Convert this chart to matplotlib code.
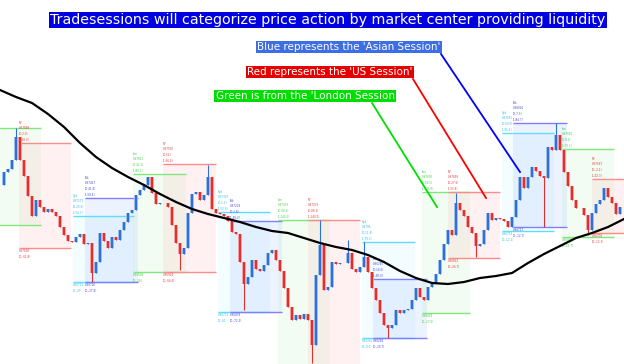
from matplotlib import pyplot as plt
from matplotlib.lines import Line2D

# =============================================================================
# Chart data (one candle every 4 px, prices)

closes = [
    0.9815, 0.9828, 0.9831, 0.9840, 0.9863, 0.9840, 0.9824, 0.9804, 0.9784, 0.9800,
    0.9793, 0.9788, 0.9791, 0.9788, 0.9784, 0.9773, 0.9765, 0.9759, 0.9758, 0.9763,
    0.9766, 0.9756, 0.9757, 0.9727, 0.9738, 0.9767, 0.9759, 0.9752, 0.9763, 0.9760,
    0.9770, 0.9778, 0.9787, 0.9790, 0.9805, 0.9810, 0.9815, 0.9823, 0.9807, 0.9796,
    0.9797, 0.9797, 0.9793, 0.9775, 0.9757, 0.9746, 0.9752, 0.9787, 0.9806, 0.9808,
    0.9800, 0.9805, 0.9823, 0.9791, 0.9787, 0.9786, 0.9784, 0.9779, 0.9768, 0.9766,
    0.9738, 0.9716, 0.9723, 0.9740, 0.9731, 0.9729, 0.9735, 0.9747, 0.9750, 0.9740,
    0.9729, 0.9712, 0.9693, 0.9680, 0.9685, 0.9681, 0.9686, 0.9680, 0.9655, 0.9725,
    0.9755, 0.9710, 0.9713, 0.9738, 0.9736, 0.9737, 0.9737, 0.9747, 0.9731, 0.9728,
    0.9733, 0.9743, 0.9728, 0.9712, 0.9700, 0.9687, 0.9675, 0.9672, 0.9675, 0.9690,
    0.9687, 0.9690, 0.9691, 0.9700, 0.9712, 0.9703, 0.9700, 0.9713, 0.9717, 0.9726,
    0.9740, 0.9756, 0.9770, 0.9765, 0.9797, 0.9790, 0.9784, 0.9773, 0.9767, 0.9754,
    0.9756, 0.9770, 0.9787, 0.9780, 0.9782, 0.9781, 0.9779, 0.9773, 0.9783, 0.9800,
    0.9823, 0.9812, 0.9823, 0.9833, 0.9829, 0.9824, 0.9822, 0.9853, 0.9850, 0.9865,
    0.9850, 0.9828, 0.9814, 0.9800, 0.9792, 0.9792, 0.9785, 0.9770, 0.9787, 0.9796,
    0.9800, 0.9812, 0.9803, 0.9797, 0.9786, 0.9793,
]

# long wicks that stick out of the bodies
spike_high_idx = [4, 52, 80, 87, 91, 114, 139]
spike_high = [0.9872, 0.9835, 0.9780, 0.9760, 0.9758, 0.9807, 0.9877]
spike_low_idx = [23, 45, 61, 78, 97, 119, 136, 147]
spike_low = [0.9718, 0.9730, 0.9690, 0.9637, 0.9662, 0.9743, 0.9773, 0.9765]

# moving average, one value every 4 candles
ma_step = 4
ma_values = [
    0.9910, 0.9903, 0.9897, 0.9886, 0.9873, 0.9857, 0.9843, 0.9832, 0.9823, 0.9815,
    0.9806, 0.9798, 0.9791, 0.9786, 0.9782, 0.9778, 0.9773, 0.9769, 0.9767, 0.9762,
    0.9757, 0.9753, 0.9750, 0.9745, 0.9738, 0.9729, 0.9722, 0.9717, 0.9716, 0.9718,
    0.9722, 0.9724, 0.9727, 0.9737, 0.9746, 0.9754, 0.9762, 0.9767, 0.9773, 0.9781,
]

# trading sessions
sess_kind = ["Lon", "NY", "Syd", "Tok", "Lon", "NY", "Syd", "Tok", "Lon", "NY",
             "Syd", "Tok", "Lon", "NY", "Syd", "Tok", "Lon", "NY"]
sess_start = [-12, 4.75, 18.25, 21.25, 33.25, 40.75, 54.5, 57.5, 69.5, 77,
              90.5, 93.25, 105.5, 112, 125.5, 128.25, 140.5, 148]
sess_end = [10.25, 17.75, 33.5, 34.5, 46.5, 54, 67.5, 70.5, 82.5, 90,
            103.75, 106.75, 117.5, 125, 138.5, 141.75, 153.5, 161]
sess_high = [0.9872, 0.9857, 0.9784, 0.9802, 0.9826, 0.9836, 0.9788, 0.9779, 0.9780, 0.9780,
             0.9758, 0.9721, 0.9808, 0.9808, 0.9867, 0.9877, 0.9851, 0.9821]
sess_low = [0.9775, 0.9752, 0.9718, 0.9718, 0.9728, 0.9728, 0.9688, 0.9688, 0.9600, 0.9600,
            0.9662, 0.9662, 0.9687, 0.9742, 0.9769, 0.9773, 0.9763, 0.9767]
sess_top_text = [
    "", "NY\n0.97889\n(O:2.0)\n(L:68.3)",
    "Syd\n0.97271\n(O:29.6)\n(L:54.3)", "Tok\n0.97417\n(O:41.8)\n(L:58.4)",
    "Lon\n0.97611\n(O:42.1)\n(L:80.1)", "NY\n0.97550\n(O:52)\n(L:66.4)",
    "Syd\n0.97307\n(O:1.1)\n(L:52.8)", "Tok\n0.97229\n(O:2.8)\n(L:49.2)",
    "Lon\n0.97233\n(O:28.2)\n(L:140.2)", "NY\n0.97233\n(O:80.1)\n(L:140.2)",
    "Syd\n0.9706\n(O:11.4)\n(L:79.5)", "Tok\n0.96745\n(O:14.6)\n(L:48.3)",
    "Lon\n0.97630\n(O:50.5)\n(L:115.6)", "NY\n0.97658\n(O:27.6)\n(L:55.8)",
    "Syd\n0.97951\n(O:50.9)\n(L:95.4)", "Tok\n0.98024\n(O:7.3)\n(L:84.7)",
    "Lon\n0.97810\n(O:0.4)\n(L:73.1)", "NY\n0.97567\n(O:-3.1)\n(L:42.3)",
]
sess_bot_text = [
    "", "0.97508\n(O:-61.8)", "0.96712\n(O:-29", "0.96720\n(O:-27.8)",
    "0.96928\n(O:-26)", "0.96926\n(O:-66.4)", "0.96712\n(O:-61", "0.96478\n(O:-72.2)",
    "", "", "0.96361\n(O:-0.0", "0.96288\n(O:-20.7)",
    "0.96474\n(O:-17.6)", "0.96822\n(O:-26.7)", "0.96712\n(O:-12.1)", "0.96717\n(O:-12.7)",
    "0.96940\n(O:-51.7)", "0.96708\n(O:-12.3)",
]

line_col = {"Lon": "#7ee87e", "NY": "#ff8a8a", "Syd": "#5fdcff", "Tok": "#7f7fff"}
fill_col = {"Lon": (0.3, 0.85, 0.3, 0.07), "NY": (1.0, 0.35, 0.35, 0.08),
            "Syd": (0.2, 0.85, 1.0, 0.06), "Tok": (0.25, 0.45, 1.0, 0.09)}
text_col = {"Lon": "#3fcf3f", "NY": "#e23b3b", "Syd": "#2fbde8", "Tok": "#4a4ad8"}

# =============================================================================

fig = plt.figure(figsize=(6.24, 3.64), dpi=100)
ax = fig.add_axes([0, 0, 1, 1])
ax.set_xlim(0, 156)
ax.set_ylim(0.9636, 1.0)
ax.axis("off")

# session boxes
for k, s, e, hi, lo, tt, bt in zip(sess_kind, sess_start, sess_end, sess_high,
                                     sess_low, sess_top_text, sess_bot_text):
    ax.fill_between([s, e], lo, hi, color=fill_col[k], lw=0, zorder=1)
    ax.hlines([hi, lo], s, e, colors=line_col[k], lw=1.0, zorder=2)
    if tt:
        ax.text(s, hi + 0.0001, tt, fontsize=2.0, color=text_col[k],
                va="bottom", ha="left", linespacing=1.6, zorder=5)
    if bt:
        ax.text(s, lo - 0.0001, bt, fontsize=2.0, color=text_col[k],
                va="top", ha="left", linespacing=1.6, zorder=5)

# candles
opens = [closes[0]] + closes[:-1]
highs = [max(o, c) for o, c in zip(opens, closes)]
lows = [min(o, c) for o, c in zip(opens, closes)]
for i, v in zip(spike_high_idx, spike_high):
    highs[i] = v
for i, v in zip(spike_low_idx, spike_low):
    lows[i] = v

idx = list(range(len(closes)))
cols = ["#2f6fd6" if c >= o else "#e0302e" for o, c in zip(opens, closes)]
shade = ["#9cc0ee" if c >= o else "#f3a3a3" for o, c in zip(opens, closes)]
body = [max(abs(c - o), 0.00005) for o, c in zip(opens, closes)]
bottom = [min(o, c) for o, c in zip(opens, closes)]
ax.vlines(idx, lows, highs, colors=cols, lw=0.8, zorder=3)
ax.bar(idx, body, bottom=bottom, width=0.85, color=shade, zorder=3)
ax.bar(idx, body, bottom=bottom, width=0.4, color=cols, zorder=4)

# moving average
ax.plot([i * ma_step for i in range(len(ma_values))], ma_values,
        color="black", lw=1.6, zorder=6)

# =============================================================================
# title and call-outs (pixel positions of the picture)

def px(x, y):
    return x / 624, 1 - y / 364

fig.text(*px(328, 20), "Tradesessions will categorize price action by market center providing liquidity",
         ha="center", va="center", color="white", fontsize=10.3,
         bbox=dict(boxstyle="square,pad=0.08", fc="#0000e0", ec="none"), zorder=10)
fig.text(*px(349, 47), "Blue represents the 'Asian Session'",
         ha="center", va="center", color="white", fontsize=7.5,
         bbox=dict(boxstyle="square,pad=0.12", fc="#3d6ee3", ec="none"), zorder=10)
fig.text(*px(330, 72), "Red represents the 'US Session'",
         ha="center", va="center", color="white", fontsize=7.5,
         bbox=dict(boxstyle="square,pad=0.12", fc="#e60000", ec="none"), zorder=10)
fig.text(*px(305, 96), "Green is from the 'London Session",
         ha="center", va="center", color="white", fontsize=7.5,
         bbox=dict(boxstyle="square,pad=0.12", fc="#00dd00", ec="none"), zorder=10)

for (x0, y0, x1, y1), c in zip([(441, 54, 520, 172), (413, 79, 486, 198), (372, 103, 437, 207)],
                               ["#0000ff", "#ff0000", "#00e000"]):
    a, b = px(x0, y0)
    d, e = px(x1, y1)
    fig.add_artist(Line2D([a, d], [b, e], color=c, lw=1.3, transform=fig.transFigure, zorder=9))

plt.savefig("out.png", dpi=100, facecolor="white")
